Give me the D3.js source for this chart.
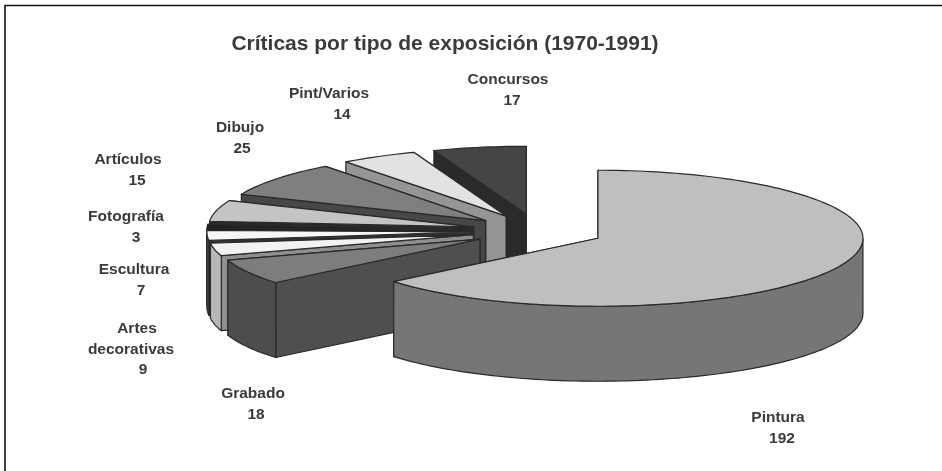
<!DOCTYPE html>
<html>
<head>
<meta charset="utf-8">
<script src="https://cdn.jsdelivr.net/npm/d3@7"></script>
<style>
  html, body { margin: 0; padding: 0; background: #fff; }
  svg { display: block; }
  text { font-family: "Liberation Sans", Arial, sans-serif; font-weight: bold; fill: #3a3a3a; }
</style>
</head>
<body>
<div id="chart-container"></div>
<script>
// data
var categories = ["Pintura", "Grabado", "Artes decorativas", "Escultura", "Fotografía", "Artículos", "Dibujo", "Pint/Varios", "Concursos"];
var values = [192, 18, 9, 7, 3, 15, 25, 14, 17];
var chartTitle = "Críticas por tipo de exposición (1970-1991)";

// one colour per slice: top, outer wall, cut face
var topColors  = ["#bfbfbf", "#7d7d7d", "#f2f2f2", "#f7f7f7", "#222222", "#c4c4c4", "#7f7f7f", "#e2e2e2", "#454545"];
var wallColors = ["#767676", "#4e4e4e", "#b8b8b8", "#4a4a4a", "#1a1a1a", "#8a8a8a", "#555555", "#999999", "#333333"];
var faceColors = ["#767676", "#505050", "#8f8f8f", "#333333", "#161616", "#2c2c2c", "#474747", "#959595", "#2b2b2b"];

// label lines and where each one sits (x is the centre of the line)
var labelLines = [["Pintura", "192"], ["Grabado", "18"], ["Artes", "decorativas", "9"], ["Escultura", "7"], ["Fotografía", "3"], ["Artículos", "15"], ["Dibujo", "25"], ["Pint/Varios", "14"], ["Concursos", "17"]];
var labelX = [[778, 782], [253, 256], [137, 131, 143], [134, 141], [126, 136], [128, 137], [240, 242], [329, 342], [508, 512]];
var labelY = [422, 398, 333, 274, 221, 164, 132, 98, 84];

var width = 942, height = 471;
var cx = 538, cy = 231, rx = 265, ry = 68;
var depth = 75, explode = 0.25;

var svg = d3.select("#chart-container").append("svg")
  .attr("width", width)
  .attr("height", height);

var defs = svg.append("defs");
defs.append("filter")
  .attr("id", "soft")
  .append("feGaussianBlur")
  .attr("stdDeviation", 0.6);
defs.append("filter")
  .attr("id", "softer")
  .append("feGaussianBlur")
  .attr("stdDeviation", 0.7);

// frame: only top and left are there
svg.append("path")
  .attr("d", "M5,471V5.5H942")
  .attr("fill", "none")
  .attr("stroke", "#111")
  .attr("stroke-width", 1.6);

var root = svg.append("g").attr("filter", "url(#soft)");
var textLayer = svg.append("g").attr("filter", "url(#softer)");

var pie = d3.pie().sort(null).startAngle(0).endAngle(2 * Math.PI);
var arcs = pie(values);

var line = d3.line().x(function (d) { return d[0]; }).y(function (d) { return d[1]; });

function rimPoint(c, a, dy) {
  return [c[0] + rx * Math.sin(a), c[1] - ry * Math.cos(a) + (dy || 0)];
}

function arcPoints(c, a0, a1, dy) {
  var n = Math.max(2, Math.ceil((a1 - a0) * 40));
  return d3.range(n + 1).map(function (i) {
    return rimPoint(c, a0 + (a1 - a0) * i / n, dy);
  });
}

function sliceCenter(d) {
  var mid = (d.startAngle + d.endAngle) / 2;
  return [cx + explode * rx * Math.sin(mid), cy - explode * ry * Math.cos(mid)];
}

function addShape(g, points, color) {
  g.append("path")
    .attr("d", line(points) + "Z")
    .attr("fill", color)
    .attr("stroke", "#2a2a2a")
    .attr("stroke-width", 1.2)
    .attr("stroke-linejoin", "round");
}

// back to front: from Concursos round to Grabado, Pintura last
var order = [8, 7, 6, 5, 4, 3, 2, 1, 0];

order.forEach(function (i) {
  var d = arcs[i];
  var c = sliceCenter(d);
  var g = root.append("g").attr("class", "slice");
  var a0 = d.startAngle, a1 = d.endAngle;
  var down = [c[0], c[1] + depth];

  // cut face at the end angle, then the one at the start angle
  addShape(g, [c, rimPoint(c, a1), rimPoint(c, a1, depth), down], faceColors[i]);
  addShape(g, [c, rimPoint(c, a0), rimPoint(c, a0, depth), down], faceColors[i]);

  // outer wall, only the part of the rim that faces the viewer
  var w0 = Math.max(a0, Math.PI / 2), w1 = Math.min(a1, 3 * Math.PI / 2);
  if (w1 > w0) {
    addShape(g, arcPoints(c, w0, w1).concat(arcPoints(c, w0, w1, depth).reverse()), wallColors[i]);
  }

  // top
  addShape(g, [c].concat(arcPoints(c, a0, a1)), topColors[i]);
});

// title and labels
textLayer.append("text")
  .attr("x", 445)
  .attr("y", 50)
  .attr("text-anchor", "middle")
  .attr("font-size", 21)
  .text(chartTitle);

categories.forEach(function (name, i) {
  var t = textLayer.append("text")
    .attr("text-anchor", "middle")
    .attr("font-size", 15.5)
    .attr("aria-label", name);
  labelLines[i].forEach(function (s, j) {
    t.append("tspan")
      .attr("x", labelX[i][j])
      .attr("y", labelY[i] + j * 20.7)
      .text(s);
  });
});
</script>
</body>
</html>
